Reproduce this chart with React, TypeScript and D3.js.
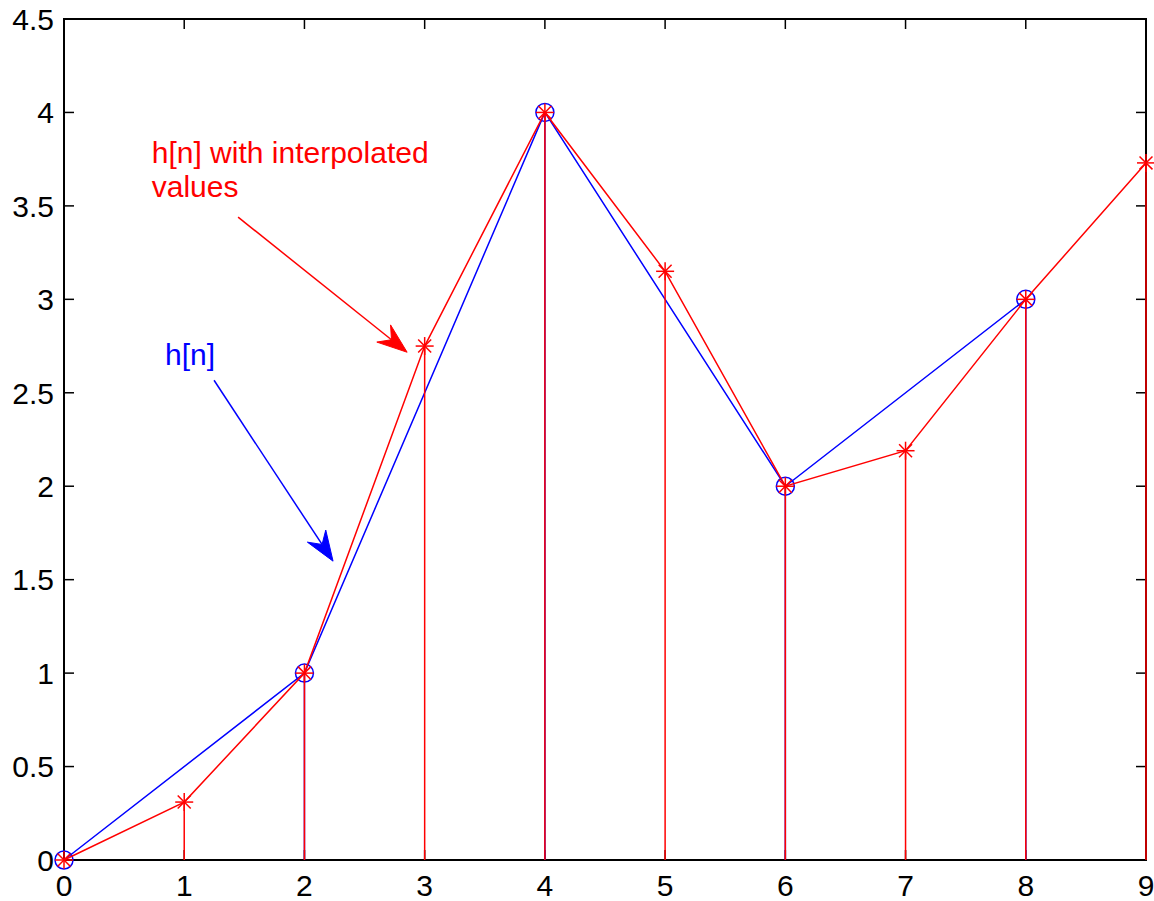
import * as d3 from 'd3';

const width = 1154;
const height = 901;

// original samples h[n] (blue, every other index)
const nOrig = [0, 2, 4, 6, 8];
const hOrig = [0, 1, 4, 2, 3];

// interpolated sequence (red)
const nInterp = [0, 1, 2, 3, 4, 5, 6, 7, 8, 9];
const hInterp = [0, 0.31, 1, 2.75, 4, 3.15, 2, 2.19, 3, 3.73];

const xTicks = [0, 1, 2, 3, 4, 5, 6, 7, 8, 9];
const yTicks = [0, 0.5, 1, 1.5, 2, 2.5, 3, 3.5, 4, 4.5];

const x = d3.scaleLinear().domain([0, 9]).range([64, 1146]);
const y = d3.scaleLinear().domain([0, 4.5]).range([860, 19]);

const line = d3.line<[number, number]>()
  .x(d => x(d[0]))
  .y(d => y(d[1]));

const font = '"Liberation Sans", Arial, Helvetica, sans-serif';

// arrow in data coords: from -> tip, drawn with a dart head
const Arrow = ({ from, to, color }: { from: number[]; to: number[]; color: string }) => {
  const x0 = x(from[0]), y0 = y(from[1]);
  const x1 = x(to[0]), y1 = y(to[1]);
  const dx = x1 - x0, dy = y1 - y0;
  const len = Math.sqrt(dx * dx + dy * dy);
  const ux = dx / len, uy = dy / len;
  const px = -uy, py = ux;
  const L = 30, W = 11, N = 20;
  const bx = x1 - ux * L, by = y1 - uy * L;
  const nx = x1 - ux * N, ny = y1 - uy * N;
  const head = `M${x1},${y1} L${bx + px * W},${by + py * W} L${nx},${ny} L${bx - px * W},${by - py * W} Z`;
  return (
    <g>
      <line x1={x0} y1={y0} x2={nx} y2={ny} stroke={color} strokeWidth={1.5} />
      <path d={head} fill={color} stroke={color} strokeWidth={1} />
    </g>
  );
};

const Asterisk = ({ cx, cy }: { cx: number; cy: number }) => {
  const r = 9;
  const d = r * 0.72;
  return (
    <g stroke="#ff0000" strokeWidth={1.5}>
      <line x1={cx - r} y1={cy} x2={cx + r} y2={cy} />
      <line x1={cx} y1={cy - r} x2={cx} y2={cy + r} />
      <line x1={cx - d} y1={cy - d} x2={cx + d} y2={cy + d} />
      <line x1={cx - d} y1={cy + d} x2={cx + d} y2={cy - d} />
    </g>
  );
};

const App = () => {
  const blue = nOrig.map((n, i) => [n, hOrig[i]] as [number, number]);
  const red = nInterp.map((n, i) => [n, hInterp[i]] as [number, number]);
  const [left, right] = x.range();
  const [bottom, top] = y.range();

  return (
    <svg width={width} height={height} style={{ position: 'absolute', left: 0, top: 0, background: '#fff' }}>
      <rect x={0} y={0} width={width} height={height} fill="#fff" />
      {/* axes box */}
      <rect x={left} y={top} width={right - left} height={bottom - top} fill="none" stroke="#000" strokeWidth={2} />
      {xTicks.map(t => (
        <g key={'xt' + t}>
          <line x1={x(t)} x2={x(t)} y1={bottom} y2={bottom - 10} stroke="#000" strokeWidth={1.5} />
          <line x1={x(t)} x2={x(t)} y1={top} y2={top + 10} stroke="#000" strokeWidth={1.5} />
          <text x={x(t)} y={896} textAnchor="middle" fontFamily={font} fontSize={30} fill="#000">{t}</text>
        </g>
      ))}
      {yTicks.map(t => (
        <g key={'yt' + t}>
          <line x1={left} x2={left + 10} y1={y(t)} y2={y(t)} stroke="#000" strokeWidth={1.5} />
          <line x1={right} x2={right - 10} y1={y(t)} y2={y(t)} stroke="#000" strokeWidth={1.5} />
          <text x={54} y={y(t)} dy="0.36em" textAnchor="end" fontFamily={font} fontSize={30} fill="#000">{t}</text>
        </g>
      ))}

      {/* blue stems, line and circles */}
      {blue.map(d => (
        <line key={'bs' + d[0]} x1={x(d[0])} x2={x(d[0])} y1={y(0)} y2={y(d[1])} stroke="#0000ff" strokeWidth={1.5} />
      ))}
      <path d={line(blue) || ''} fill="none" stroke="#0000ff" strokeWidth={1.5} />
      {blue.map(d => (
        <circle key={'bc' + d[0]} cx={x(d[0])} cy={y(d[1])} r={9} fill="none" stroke="#0000ff" strokeWidth={1.5} />
      ))}

      {/* red stems, line and asterisks */}
      {red.map(d => (
        <line key={'rs' + d[0]} x1={x(d[0])} x2={x(d[0])} y1={y(0)} y2={y(d[1])} stroke="#ff0000" strokeWidth={1.5} />
      ))}
      <path d={line(red) || ''} fill="none" stroke="#ff0000" strokeWidth={1.5} />
      {red.map(d => (
        <Asterisk key={'ra' + d[0]} cx={x(d[0])} cy={y(d[1])} />
      ))}

      {/* annotations */}
      <text x={x(0.73)} y={y(3.727)} fontFamily={font} fontSize={30} fill="#ff0000">h[n] with interpolated</text>
      <text x={x(0.73)} y={y(3.545)} fontFamily={font} fontSize={30} fill="#ff0000">values</text>
      <Arrow from={[1.448, 3.44]} to={[2.854, 2.717]} color="#ff0000" />

      <text x={x(0.84)} y={y(2.647)} fontFamily={font} fontSize={30} fill="#0000ff">h[n]</text>
      <Arrow from={[1.248, 2.567]} to={[2.238, 1.599]} color="#0000ff" />
    </svg>
  );
};

export default App;
